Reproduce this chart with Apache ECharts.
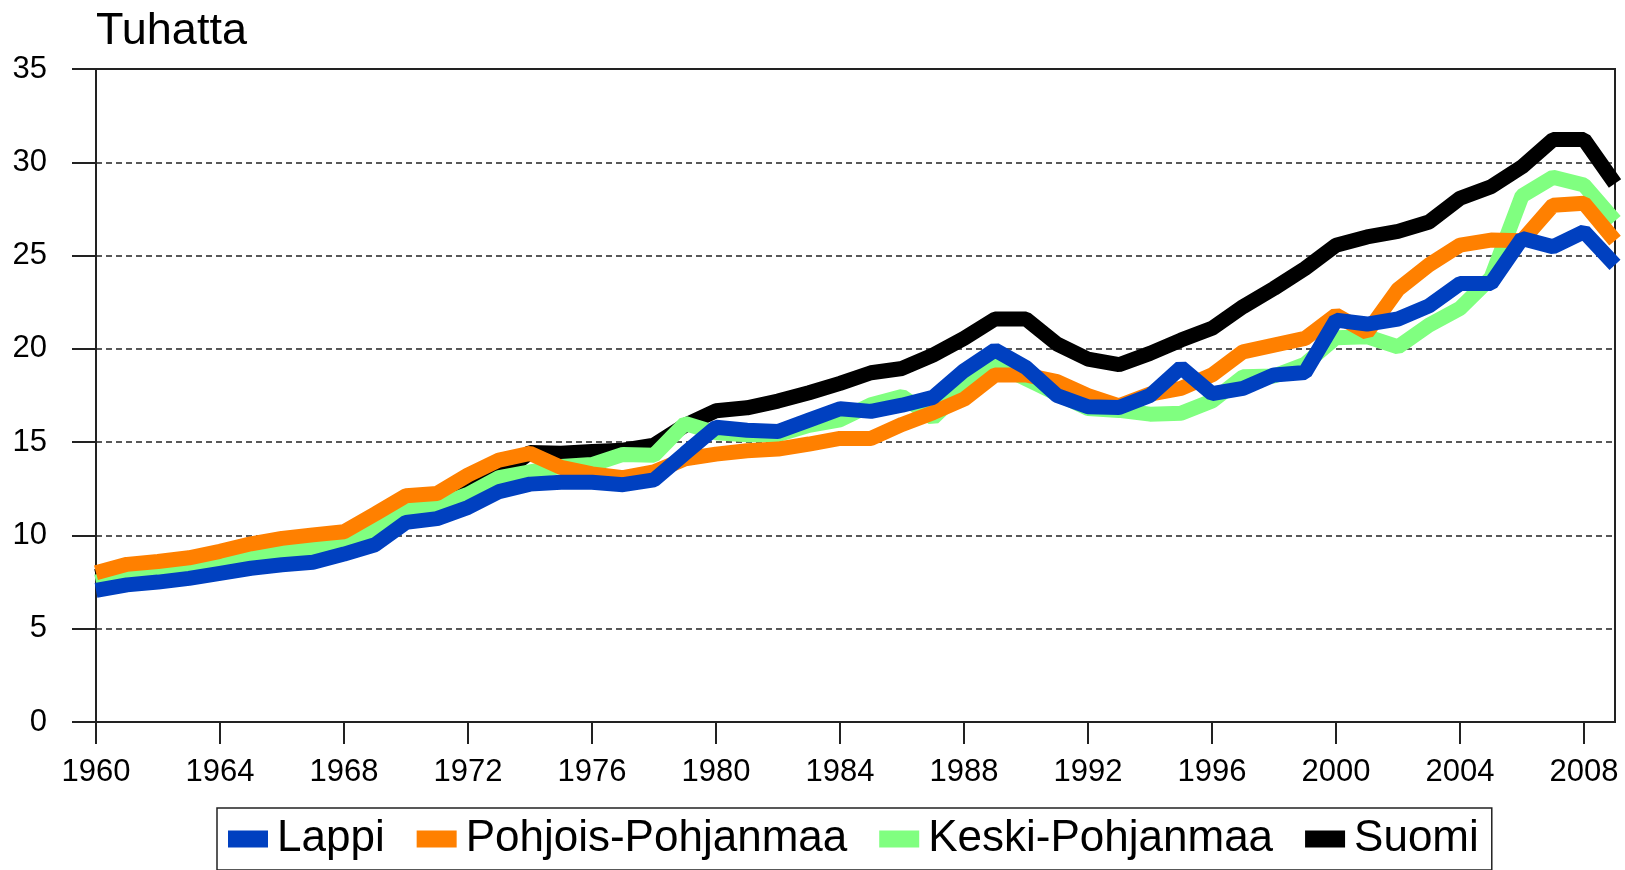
<!DOCTYPE html>
<html>
<head>
<meta charset="utf-8">
<script src="https://cdn.jsdelivr.net/npm/echarts@6/dist/echarts.min.js"></script>
<style>
html,body{margin:0;padding:0;background:#fff;}
#chart{width:1625px;height:870px;}
</style>
</head>
<body>
<div id="chart"></div>
<script>
const years = [];
for (let y = 1960; y <= 2009; y++) years.push(String(y));

const seriesNames = ['Lappi', 'Pohjois-Pohjanmaa', 'Keski-Pohjanmaa', 'Suomi'];

const lappi = [7.05, 7.35, 7.5, 7.7, 7.97, 8.24, 8.43, 8.56, 9.0, 9.5,
  10.7, 10.9, 11.5, 12.35, 12.75, 12.85, 12.85, 12.72, 12.98, 14.4,
  15.8, 15.64, 15.57, 16.18, 16.79, 16.65, 16.98, 17.4, 18.83, 19.94,
  19.0, 17.5, 16.9, 16.86, 17.5, 19.0, 17.6, 17.88, 18.6, 18.73,
  21.54, 21.33, 21.6, 22.3, 23.5, 23.5, 25.92, 25.47, 26.28, 24.5];

const pohjoisPohjanmaa = [8.0, 8.45, 8.6, 8.8, 9.15, 9.55, 9.84, 10.03, 10.2, 11.15,
  12.13, 12.25, 13.24, 14.04, 14.4, 13.65, 13.3, 13.1, 13.4, 14.1,
  14.36, 14.54, 14.63, 14.9, 15.2, 15.2, 15.95, 16.58, 17.3, 18.6,
  18.6, 18.24, 17.5, 16.95, 17.58, 17.88, 18.6, 19.84, 20.2, 20.56,
  21.81, 20.88, 23.19, 24.5, 25.56, 25.83, 25.8, 27.7, 27.8, 25.8];

const keskiPohjanmaa = [7.5, 7.9, 8.05, 8.25, 8.55, 8.9, 9.1, 9.3, 9.6, 10.3,
  11.4, 11.6, 12.2, 13.1, 13.4, 13.7, 13.8, 14.34, 14.3, 16.0,
  15.5, 15.4, 15.4, 15.9, 16.2, 17.0, 17.45, 16.3, 17.9, 19.2,
  18.4, 17.6, 16.8, 16.7, 16.5, 16.55, 17.2, 18.5, 18.55, 19.18,
  20.6, 20.65, 20.1, 21.27, 22.17, 23.8, 28.2, 29.2, 28.78, 26.86];

const suomi = [7.8, 8.2, 8.35, 8.55, 8.9, 9.3, 9.5, 9.7, 9.9, 10.8,
  11.8, 11.9, 12.4, 13.2, 14.45, 14.4, 14.5, 14.57, 14.84, 15.9,
  16.68, 16.84, 17.2, 17.65, 18.15, 18.72, 18.95, 19.67, 20.56, 21.6,
  21.6, 20.26, 19.45, 19.15, 19.76, 20.47, 21.1, 22.26, 23.24, 24.31,
  25.55, 26.0, 26.3, 26.8, 28.07, 28.69, 29.76, 31.22, 31.22, 28.86];

const colors = {
  'Lappi': '#0040C0',
  'Pohjois-Pohjanmaa': '#FF8000',
  'Keski-Pohjanmaa': '#80FF80',
  'Suomi': '#000000'
};
const dataByName = {
  'Lappi': lappi,
  'Pohjois-Pohjanmaa': pohjoisPohjanmaa,
  'Keski-Pohjanmaa': keskiPohjanmaa,
  'Suomi': suomi
};

const FONT = '"Liberation Sans", Arial, sans-serif';

// draw order: Suomi at bottom, Lappi on top
const drawOrder = ['Suomi', 'Keski-Pohjanmaa', 'Pohjois-Pohjanmaa', 'Lappi'];

const chart = echarts.init(document.getElementById('chart'), null, {renderer: 'canvas'});
chart.setOption({
  animation: false,
  backgroundColor: '#fff',
  title: {
    text: 'Tuhatta',
    left: 96,
    top: 9,
    padding: 0,
    textStyle: {fontFamily: FONT, fontSize: 45, fontWeight: 'normal', color: '#000'}
  },
  legend: {
    data: seriesNames.map(n => ({name: n, itemStyle: {color: colors[n]}})),
    left: 217,
    top: 808,
    orient: 'horizontal',
    icon: 'rect',
    itemWidth: 40,
    itemHeight: 17,
    itemGap: 32,
    padding: [9, 13, 9, 11],
    borderColor: '#222',
    borderWidth: 1.5,
    textStyle: {fontFamily: FONT, fontSize: 44, color: '#000', padding: [0, 0, 0, 4]}
  },
  grid: {
    left: 96,
    right: 10,
    top: 69,
    bottom: 148,
    show: true,
    borderColor: '#222',
    borderWidth: 2,
    backgroundColor: 'transparent'
  },
  xAxis: {
    type: 'category',
    data: years,
    boundaryGap: false,
    axisLine: {lineStyle: {color: '#222', width: 2}},
    axisTick: {show: true, interval: 3, length: 22, lineStyle: {color: '#222', width: 2}},
    axisLabel: {interval: 3, margin: 35, fontFamily: FONT, fontSize: 31, color: '#000'},
    splitLine: {show: false}
  },
  yAxis: {
    type: 'value',
    min: 0,
    max: 35,
    interval: 5,
    axisLine: {show: true, lineStyle: {color: '#222', width: 2}},
    axisTick: {show: true, length: 24, lineStyle: {color: '#222', width: 2}},
    axisLabel: {margin: 49, fontFamily: FONT, fontSize: 31, color: '#000'},
    splitLine: {show: true, showMaxLine: false, showMinLine: false, lineStyle: {color: '#222', width: 1.5, type: [6, 4]}}
  },
  series: drawOrder.map(n => ({
    name: n,
    type: 'line',
    data: dataByName[n],
    symbol: 'none',
    clip: true,
    color: colors[n],
    lineStyle: {color: colors[n], width: 15, join: 'bevel'},
    emphasis: {disabled: true}
  }))
});
</script>
</body>
</html>
